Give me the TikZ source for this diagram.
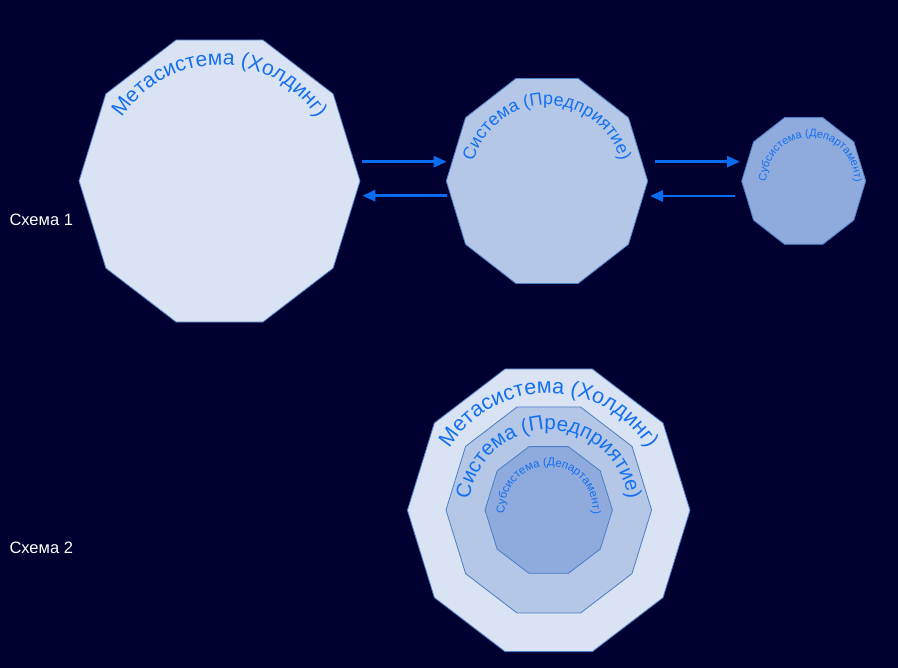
\documentclass[tikz,border=0pt]{standalone}
\usepackage{fontspec}
\setmainfont{Liberation Sans}
\usetikzlibrary{arrows.meta,decorations.text}
\definecolor{bgnavy}{HTML}{000030}
\definecolor{fillA}{HTML}{DAE3F3}
\definecolor{fillB}{HTML}{B4C7E7}
\definecolor{fillC}{HTML}{8FAADC}
\definecolor{edgeblue}{HTML}{4A7EC6}
\definecolor{txtblue}{HTML}{1470F0}
\definecolor{arrowblue}{HTML}{0A6CF0}
\tikzset{
  decaA/.style={draw=edgeblue, line width=0.8pt, fill=fillA},
  decaB/.style={draw=edgeblue, line width=0.8pt, fill=fillB},
  decaC/.style={draw=edgeblue, line width=0.8pt, fill=fillC},
  arr/.style={-{Triangle[length=13pt,width=11pt]}, line width=2.8pt, draw=arrowblue},
  schemelbl/.style={text=white, font=\fontsize{16.5}{18}\selectfont, anchor=base west, inner sep=0pt},
}
\newcommand\mydecagon[5]{%
  \draw[#1] plot[variable=\a, samples at={0,36,...,324}] ({#2+#4*cos(\a)},{#3+#5*sin(\a)}) -- cycle;}
\newcommand\myarctext[5]{%
  \path[decorate, decoration={text along path, text align=center, text color=txtblue,
    text={|\fontsize{#4}{#4}\selectfont|#5}}]
    (#1,#2) ++(200:#3pt) arc[start angle=200, end angle=-20, radius=#3pt];}
\begin{document}
\begin{tikzpicture}[x=1pt,y=1pt]
\fill[bgnavy] (0,0) rectangle (898,668);
\useasboundingbox (0,0) rectangle (898,668);

% Scheme 1
\coordinate (meta1) at (219.5,487);
\coordinate (sys1) at (547,487);
\coordinate (sub1) at (803.7,487);
\mydecagon{decaA}{219.5}{487}{140.5}{148.3}
\mydecagon{decaB}{547}{487}{100.7}{107.8}
\mydecagon{decaC}{803.7}{487}{62}{66.6}
\myarctext{219.5}{487}{116}{21}{Метасистема (Холдинг)}
\myarctext{547}{487}{76}{17.8}{Система (Предприятие)}
\myarctext{810.5}{487}{44}{11}{Субсистема (Департамент)}

\coordinate (a1s) at (361.7,506.3); \coordinate (a1e) at (446.7,506.3);
\coordinate (b1s) at (446.7,472.3); \coordinate (b1e) at (362.3,472.3);
\coordinate (a2s) at (655,506.3);   \coordinate (a2e) at (740,506.3);
\coordinate (b2s) at (735,472);     \coordinate (b2e) at (650,472);
\draw[arr] (a1s) -- (a1e);
\draw[arr] (b1s) -- (b1e);
\draw[arr] (a2s) -- (a2e);
\draw[arr] (b2s) -- (b2e);

\node[schemelbl] (lbl1) at (9.3,442) {Схема 1};

% Scheme 2
\coordinate (meta2) at (548.7,157.7);
\mydecagon{decaA}{548.7}{157.7}{141.3}{148.6}
\mydecagon{decaB}{548.8}{158}{102.8}{108.3}
\mydecagon{decaC}{548.7}{158}{63.7}{66.6}
\myarctext{548.7}{157.7}{117}{21.5}{Метасистема (Холдинг)}
\myarctext{548.8}{158}{80}{20.6}{Система (Предприятие)}
\myarctext{548.7}{158}{44}{11.5}{Субсистема (Департамент)}

\node[schemelbl] (lbl2) at (9.3,114) {Схема 2};
\end{tikzpicture}
\end{document}
